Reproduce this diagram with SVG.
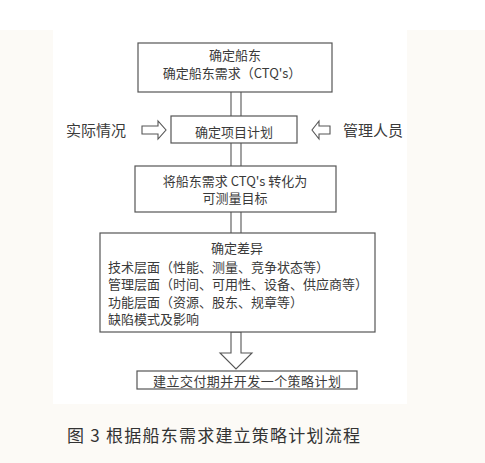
<svg xmlns="http://www.w3.org/2000/svg" width="485" height="463" viewBox="0 0 485 463">
<style>
.box{fill:#fff;stroke:#555;stroke-width:1.2}
.ln{stroke:#555;stroke-width:1.1;fill:none}
.ar{fill:#fff;stroke:#555;stroke-width:1.1;stroke-linejoin:miter}
text{font-family:"Noto Sans CJK SC","Noto Sans",sans-serif;fill:#3a3a3a;font-size:13px}
.c{text-anchor:middle}
.lbl{font-size:15px}
.cap{font-size:17px;fill:#333}
</style>
<rect x="0" y="0" width="485" height="463" fill="#fcfaf6"/>
<rect x="0" y="0" width="485" height="30" fill="#fff"/>
<rect x="53" y="0" width="354" height="404" fill="#fff"/>
<g id="connectors">
<line class="ln" x1="231" y1="92" x2="231" y2="116"/><line class="ln" x1="241" y1="92" x2="241" y2="116"/>
<line class="ln" x1="231" y1="143" x2="231" y2="166"/><line class="ln" x1="241" y1="143" x2="241" y2="166"/>
<line class="ln" x1="231" y1="212" x2="231" y2="233"/><line class="ln" x1="241" y1="212" x2="241" y2="233"/>
<polygon class="ar" points="231,332 241,332 241,353 252,353 236,369 220,353 231,353"/>
<polygon class="ar" points="142,126 158,126 158,121 166,130 158,139 158,134 142,134"/>
<polygon class="ar" points="330,126 319,126 319,121 312,130 319,139 319,134 330,134"/>
</g>
<g id="n1"><rect class="box" x="138" y="43" width="194" height="49"/>
<text class="c" x="235" y="60">确定船东</text>
<text class="c" x="232" y="78">确定船东需求（CTQ's）</text></g>
<g id="n2"><rect class="box" x="171" y="116" width="126" height="27"/>
<text class="c" x="234" y="136.5">确定项目计划</text></g>
<g id="lblL"><text class="lbl" x="66" y="135.5">实际情况</text></g>
<g id="lblR"><text class="lbl" x="343" y="135.5">管理人员</text></g>
<g id="n3"><rect class="box" x="135" y="166" width="201" height="46"/>
<text class="c" x="235" y="185.5">将船东需求 CTQ's 转化为</text>
<text class="c" x="235" y="203">可测量目标</text></g>
<g id="n4"><rect class="box" x="100" y="233" width="275" height="99"/>
<text class="c" x="237" y="252.5">确定差异</text>
<text x="108" y="271.5">技术层面（性能、测量、竞争状态等）</text>
<text x="108" y="289">管理层面（时间、可用性、设备、供应商等）</text>
<text x="108" y="306.5">功能层面（资源、股东、规章等）</text>
<text x="108" y="324">缺陷模式及影响</text></g>
<g id="n5"><rect class="box" x="137" y="371" width="220" height="18"/>
<text class="c" x="247" y="385.5" textLength="188">建立交付期并开发一个策略计划</text></g>
<g id="caption"><text class="cap" x="67" y="442" textLength="293">图 3 根据船东需求建立策略计划流程</text></g>
</svg>
